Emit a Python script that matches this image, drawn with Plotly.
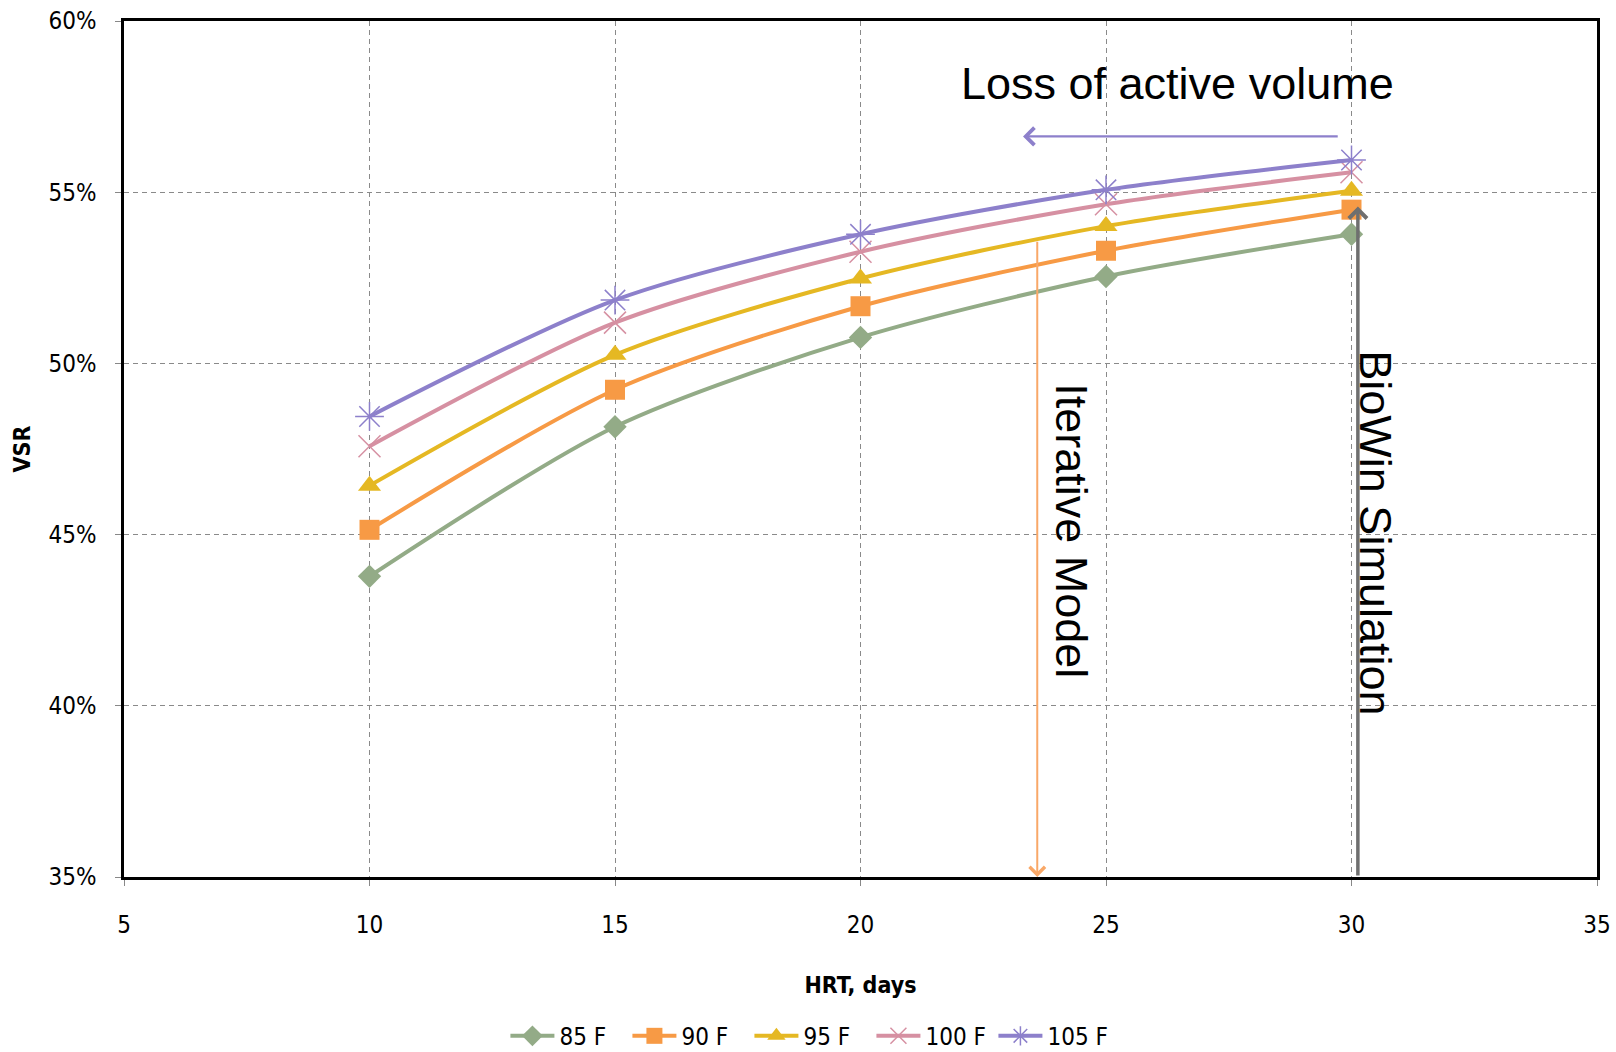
import plotly.graph_objects as go

hrt = [10, 15, 20, 25, 30]
series_names = ["85 F", "90 F", "95 F", "100 F", "105 F"]
vsr_85 = [0.4378, 0.4815, 0.5076, 0.5254, 0.5377]
vsr_90 = [0.4514, 0.4923, 0.5167, 0.5329, 0.5449]
vsr_95 = [0.4643, 0.5025, 0.5248, 0.5401, 0.5504]
vsr_100 = [0.4758, 0.5119, 0.5326, 0.5465, 0.5558]
vsr_105 = [0.4845, 0.5185, 0.5377, 0.5507, 0.5594]
x_ticks = [5, 10, 15, 20, 25, 30, 35]
y_ticks = [0.35, 0.40, 0.45, 0.50, 0.55, 0.60]

colors = ["#93ab87", "#f79a45", "#e5b823", "#d690a2", "#8d80cb"]
symbols = ["diamond", "square", "triangle-up", "x-thin", "asterisk"]
sizes = [18, 20, 20, 22, 24]
all_vals = [vsr_85, vsr_90, vsr_95, vsr_100, vsr_105]

NARROW = "Liberation Sans Narrow, Arial Narrow, DejaVu Sans Condensed, Liberation Sans, sans-serif"
ARIAL = "Liberation Sans, Arial, sans-serif"

fig = go.Figure()
for name, vals, c, s, sz in zip(series_names, all_vals, colors, symbols, sizes):
    thin = s in ("x-thin", "asterisk")
    fig.add_trace(go.Scatter(
        x=hrt, y=vals, name=name, mode="lines+markers",
        line=dict(color=c, width=4, shape="spline", smoothing=0.8),
        marker=dict(symbol=s, size=sz, color=c,
                    line=dict(color=c, width=1.5 if thin else 0)),
    ))

# Loss of active volume arrow (purple, pointing left)
fig.add_annotation(x=23.31, y=0.5663, ax=29.75, ay=0.5663, xref="x", yref="y",
                   axref="x", ayref="y", text="", showarrow=True,
                   arrowhead=4, arrowsize=1.4, arrowwidth=2.4, arrowcolor="#8d80cb")
fig.add_annotation(x=26.46, y=0.5817, xref="x", yref="y", text="Loss of active volume",
                   showarrow=False, font=dict(family=ARIAL, size=45, color="black"))

# Iterative Model arrow (orange, pointing down)
fig.add_annotation(x=23.6, y=0.35, ax=23.6, ay=0.536, xref="x", yref="y",
                   axref="x", ayref="y", text="", showarrow=True,
                   arrowhead=4, arrowsize=1.5, arrowwidth=2, arrowcolor="#f9a868")
fig.add_annotation(x=24.3, y=0.4511, xref="x", yref="y", text="Iterative Model",
                   textangle=90, showarrow=False,
                   font=dict(family=ARIAL, size=45, color="black"))

# BioWin Simulation arrow (gray, pointing up)
fig.add_annotation(x=30.13, y=0.5458, ax=30.13, ay=0.35, xref="x", yref="y",
                   axref="x", ayref="y", text="", showarrow=True,
                   arrowhead=4, arrowsize=1.0, arrowwidth=3.5, arrowcolor="#6f6f6f")
fig.add_annotation(x=30.49, y=0.4505, xref="x", yref="y", text="BioWin Simulation",
                   textangle=90, showarrow=False,
                   font=dict(family=ARIAL, size=45, color="black"))

fig.update_layout(
    width=1616, height=1052,
    margin=dict(l=124, r=19, t=21, b=175, autoexpand=False),
    plot_bgcolor="white", paper_bgcolor="white",
    font=dict(family=NARROW, color="black"),
    showlegend=True,
    legend=dict(orientation="h", x=0.466, xanchor="center", y=-0.186, yanchor="middle",
                font=dict(family=NARROW, size=24, color="black"),
                itemwidth=44, entrywidth=63, entrywidthmode="pixels", tracegroupgap=0),
    xaxis=dict(
        range=[5, 35], tickvals=x_ticks, ticktext=[str(v) for v in x_ticks],
        showgrid=True, gridcolor="#8a8a8a", griddash="5px,4px", gridwidth=1,
        showline=True, linecolor="black", linewidth=2.5, mirror=True,
        ticks="outside", ticklen=6, tickcolor="#888888",
        ticklabelstandoff=18, automargin=False,
        tickfont=dict(family=NARROW, size=24, color="black"),
        title=dict(text="<b>HRT, days</b>", standoff=40,
                   font=dict(family=NARROW, size=23, color="black")),
        zeroline=False,
    ),
    yaxis=dict(
        range=[0.35, 0.60], tickvals=y_ticks, tickformat=".0%",
        showgrid=True, gridcolor="#8a8a8a", griddash="5px,4px", gridwidth=1,
        showline=True, linecolor="black", linewidth=2.5, mirror=True,
        ticks="outside", ticklen=6, tickcolor="#888888",
        ticklabelstandoff=14, automargin=False,
        tickfont=dict(family=NARROW, size=24, color="black"),
        title=dict(text="<b>VSR</b>", standoff=12,
                   font=dict(family=NARROW, size=23, color="black")),
        zeroline=False,
    ),
)

fig.write_html("out.html")
